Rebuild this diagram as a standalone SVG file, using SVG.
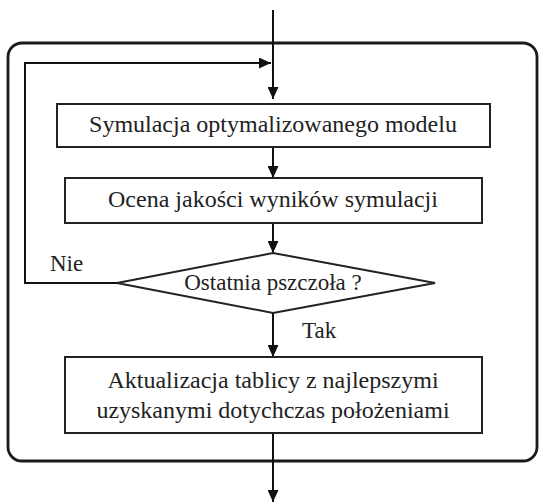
<svg xmlns="http://www.w3.org/2000/svg" width="539" height="503" viewBox="0 0 539 503">
<style>
.frame{fill:none;stroke:#1a1a1a;stroke-width:2.8}
.box{fill:#fff;stroke:#222;stroke-width:2}
.ln{fill:none;stroke:#111;stroke-width:2}
text{font-family:"Liberation Serif","Times New Roman",serif;font-size:24px;fill:#222;text-anchor:middle}
.lbl{text-anchor:start;font-size:23px}
</style>
<defs>
<marker id="ah" markerWidth="12" markerHeight="11" refX="12" refY="5.5" orient="auto" markerUnits="userSpaceOnUse">
<path d="M0,0 L12,5.5 L0,11 z" fill="#111"/>
</marker>
</defs>
<rect width="539" height="503" fill="#fff"/>
<g id="frame"><rect class="frame" x="8" y="43" width="529" height="418" rx="14"/></g>
<g id="connectors">
<path class="ln" d="M273,10 V99" marker-end="url(#ah)"/>
<path class="ln" d="M117,283 H25 V63 H271" marker-end="url(#ah)"/>
<path class="ln" d="M273,147 V178" marker-end="url(#ah)"/>
<path class="ln" d="M273,223 V253" marker-end="url(#ah)"/>
<path class="ln" d="M273,313 V357" marker-end="url(#ah)"/>
<path class="ln" d="M273,433 V502" marker-end="url(#ah)"/>
<text class="lbl" x="50" y="271">Nie</text>
<text class="lbl" x="302" y="338">Tak</text>
</g>
<g id="sim"><rect class="box" x="57" y="104" width="433" height="43"/><text x="273" y="132">Symulacja optymalizowanego modelu</text></g>
<g id="ocena"><rect class="box" x="65" y="178" width="417" height="45"/><text x="273" y="207">Ocena jakości wyników symulacji</text></g>
<g id="decision"><polygon class="box" points="117,283 273,253 435,283 273,313"/><text x="273" y="290" style="font-size:23px">Ostatnia pszczoła ?</text></g>
<g id="aktual"><rect class="box" x="65" y="357" width="417" height="76"/><text x="273" y="388">Aktualizacja tablicy z najlepszymi</text><text x="273" y="418">uzyskanymi dotychczas położeniami</text></g>
</svg>
